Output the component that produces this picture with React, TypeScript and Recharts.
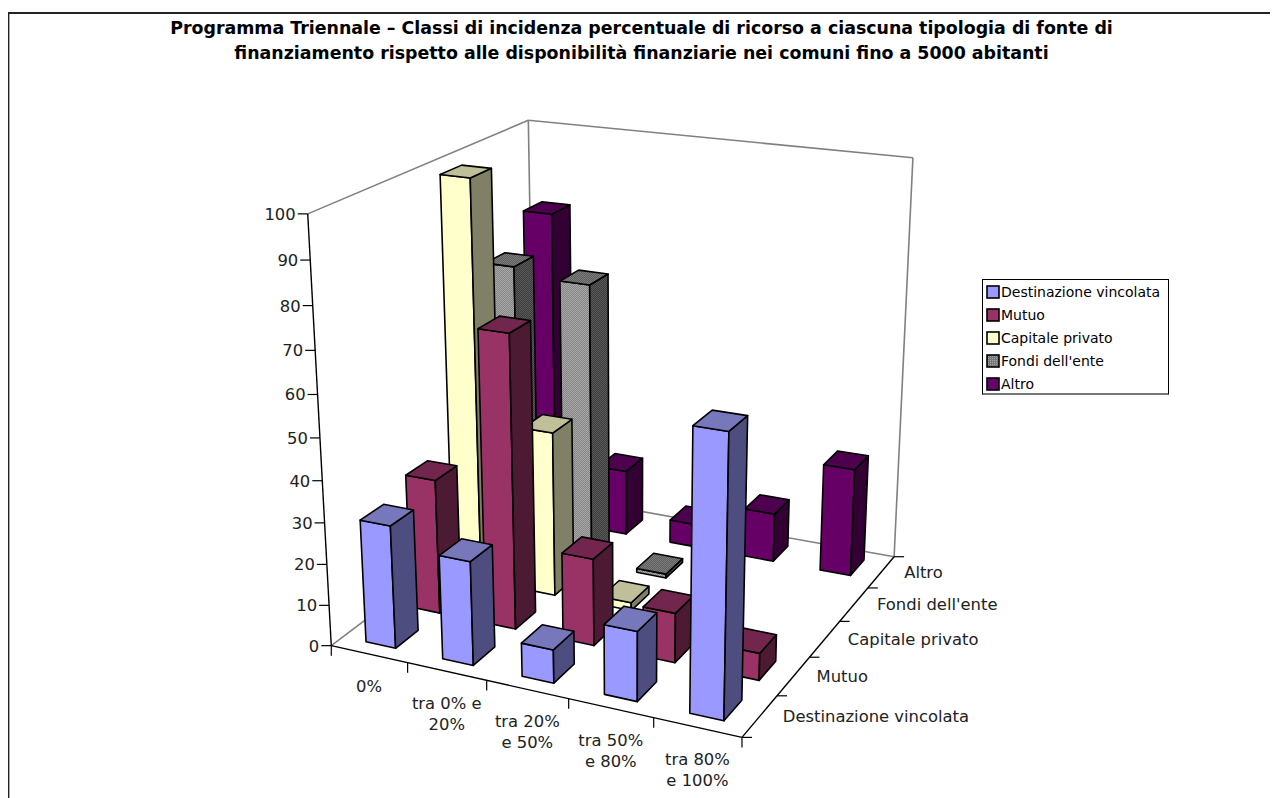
import { ScatterChart, Scatter, XAxis, YAxis, Legend } from 'recharts'

const categories = ['0%', 'tra 0% e|20%', 'tra 20%|e 50%', 'tra 50%|e 80%', 'tra 80%|e 100%']
const seriesNames = ['Destinazione vincolata', 'Mutuo', 'Capitale privato', "Fondi dell'ente", 'Altro']
const destinazione = [29.8, 25, 8, 16.5, 64.5]
const mutuo = [33.2, 71, 21.2, 12, 6.5]
const capitale = [99, 41, 2, 0, 0]
const fondi = [73, 71, 1, 0, 0]
const altro = [81, 17, 6, 12.5, 27.4]
const valueTicks = [0, 10, 20, 30, 40, 50, 60, 70, 80, 90, 100]

const W = 1262
const H = 790
const AXIS_SIZE = 1
const FONT = '"DejaVu Sans", Verdana, sans-serif'
const TICK_SIZE = 16.4

const seriesValues = [destinazione, mutuo, capitale, fondi, altro]
const seriesColors = [
  { front: '#9999ff', side: '#4d4d80', top: '#7777bb' },
  { front: '#993366', side: '#4d1a33', top: '#73264d' },
  { front: '#ffffcc', side: '#808066', top: '#bfbf99' },
  { front: 'url(#dotFront)', side: 'url(#dotSide)', top: 'url(#dotTop)' },
  { front: '#660066', side: '#330033', top: '#4d004d' },
]

// 3d box corners as they sit on the page, used to fit the camera
const corners: number[][] = [
  [0, 0, 0, 331, 645],
  [5, 0, 0, 742, 738],
  [5, 5, 0, 894, 556],
  [0, 5, 0, 535, 493],
  [0, 0, 100, 308, 214],
  [0, 5, 100, 528, 120],
  [5, 5, 100, 913, 158],
]

function fitCamera() {
  const rows: number[][] = []
  const rhs: number[] = []
  corners.forEach(([a, b, c, px, py]) => {
    rows.push([a, b, c, 1, 0, 0, 0, 0, -a * px, -b * px, -c * px])
    rhs.push(px)
    rows.push([0, 0, 0, 0, a, b, c, 1, -a * py, -b * py, -c * py])
    rhs.push(py)
  })
  const n = 11
  const m = Array.from({ length: n }, (_, i) =>
    Array.from({ length: n + 1 }, (_, j) =>
      rows.reduce((s, r, k) => s + r[i] * (j === n ? rhs[k] : r[j]), 0),
    ),
  )
  for (let i = 0; i < n; i++) {
    let best = i
    for (let k = i + 1; k < n; k++) if (Math.abs(m[k][i]) > Math.abs(m[best][i])) best = k
    ;[m[i], m[best]] = [m[best], m[i]]
    for (let k = 0; k < n; k++) {
      if (k === i) continue
      const f = m[k][i] / m[i][i]
      for (let j = i; j <= n; j++) m[k][j] -= f * m[i][j]
    }
  }
  return m.map((r, i) => r[n] / r[i])
}

const cam = fitCamera()

// page position of (category, series, value), shifted into the chart svg
function project(a: number, b: number, c: number) {
  const d = cam[8] * a + cam[9] * b + cam[10] * c + 1
  return {
    x: (cam[0] * a + cam[1] * b + cam[2] * c + cam[3]) / d - 8,
    y: (cam[4] * a + cam[5] * b + cam[6] * c + cam[7]) / d - 8,
  }
}

const pts = (list: number[][]) =>
  list
    .map(([a, b, c]) => {
      const p = project(a, b, c)
      return `${p.x},${p.y}`
    })
    .join(' ')

const BAR_W = 0.195
const BAR_D = 0.25

function Prism(props: any) {
  const { cx, cy, series } = props
  // back to data space from the chart scales
  const cat = ((cx - AXIS_SIZE) / (W - 2 * AXIS_SIZE)) * 5
  const val = ((H - AXIS_SIZE - cy) / (H - AXIS_SIZE)) * 100
  if (val <= 0) return null
  const c = seriesColors[series]
  const x0 = cat - BAR_W
  const x1 = cat + BAR_W
  const y0 = series + 0.5 - BAR_D
  const y1 = series + 0.5 + BAR_D
  const face = { stroke: '#000', strokeWidth: 1.6, strokeLinejoin: 'round' as const }
  return (
    <g>
      <polygon {...face} fill={c.front} points={pts([[x0, y0, 0], [x1, y0, 0], [x1, y0, val], [x0, y0, val]])} />
      <polygon {...face} fill={c.side} points={pts([[x1, y0, 0], [x1, y1, 0], [x1, y1, val], [x1, y0, val]])} />
      <polygon {...face} fill={c.top} points={pts([[x0, y0, val], [x1, y0, val], [x1, y1, val], [x0, y1, val]])} />
    </g>
  )
}

function seg(a: number[], b: number[], stroke: string, width: number) {
  const p = project(a[0], a[1], a[2])
  const q = project(b[0], b[1], b[2])
  return <line x1={p.x} y1={p.y} x2={q.x} y2={q.y} stroke={stroke} strokeWidth={width} />
}

function tickMark(a: number, b: number, c: number, dx: number, dy: number) {
  const p = project(a, b, c)
  return <line key={`${a}-${b}-${c}`} x1={p.x} y1={p.y} x2={p.x + dx} y2={p.y + dy} stroke="#000" strokeWidth={1.2} />
}

function Box() {
  return (
    <g>
      {seg([0, 0, 0], [0, 5, 0], '#808080', 1.6)}
      {seg([0, 5, 0], [5, 5, 0], '#808080', 1.6)}
      {seg([0, 5, 0], [0, 5, 100], '#808080', 1.6)}
      {seg([5, 5, 0], [5, 5, 100], '#808080', 1.6)}
      {seg([0, 0, 100], [0, 5, 100], '#808080', 1.6)}
      {seg([0, 5, 100], [5, 5, 100], '#808080', 1.6)}
      {seg([0, 0, 0], [0, 0, 100], '#000', 1.4)}
      {seg([0, 0, 0], [5, 0, 0], '#000', 1.4)}
      {seg([5, 0, 0], [5, 5, 0], '#000', 1.4)}
      {valueTicks.map((v) => tickMark(0, 0, v, -10, 0))}
      {[0, 1, 2, 3, 4, 5].map((i) => tickMark(i, 0, 0, 0, 10))}
      {[0, 1, 2, 3, 4, 5].map((j) => tickMark(5, j, 0, 10, 0))}
    </g>
  )
}

function ValueTick({ payload }: any) {
  const p = project(0, 0, payload.value)
  return (
    <text x={p.x - 12} y={p.y + 6} textAnchor="end" fontFamily={FONT} fontSize={TICK_SIZE} fill="#222">
      {payload.value}
    </text>
  )
}

function CategoryTick({ payload }: any) {
  const p = project(payload.value, 0, 0)
  const lines = categories[Math.floor(payload.value)].split('|')
  return (
    <text textAnchor="middle" fontFamily={FONT} fontSize={TICK_SIZE} fill="#222">
      {lines.map((l, i) => (
        <tspan key={l} x={p.x} y={p.y + 37.5 + i * 21}>
          {l}
        </tspan>
      ))}
    </text>
  )
}

function SeriesTick({ payload }: any) {
  const p = project(5, payload.value, 0)
  return (
    <text x={p.x + 23} y={p.y + 6} fontFamily={FONT} fontSize={TICK_SIZE} fill="#222">
      {seriesNames[Math.floor(payload.value)]}
    </text>
  )
}

function LegendBox() {
  return (
    <div
      style={{
        boxSizing: 'border-box',
        width: 187,
        height: 116,
        border: '1px solid #000',
        borderBottom: '2px solid #777',
        background: '#fff',
        padding: '0 0 0 3px',
        fontFamily: FONT,
        fontSize: 14,
        color: '#000',
      }}
    >
      {seriesNames.map((name, i) => (
        <div key={name} style={{ display: 'flex', alignItems: 'center', height: 23 }}>
          <svg width={14} height={14} style={{ marginRight: 1 }}>
            <defs>
              <pattern id={`lg${i}`} width={2} height={2} patternUnits="userSpaceOnUse">
                <rect width={2} height={2} fill="#777" />
                <rect width={1} height={1} fill="#a8a8a8" />
              </pattern>
            </defs>
            <rect
              x={1}
              y={1}
              width={12}
              height={12}
              stroke="#000"
              strokeWidth={1.6}
              fill={i === 3 ? `url(#lg${i})` : seriesColors[i].front}
            />
          </svg>
          {name}
        </div>
      ))}
    </div>
  )
}

const dotPattern = (id: string, base: string, dot: string) => (
  <pattern id={id} width={2} height={2} patternUnits="userSpaceOnUse">
    <rect width={2} height={2} fill={base} />
    <rect width={1} height={1} fill={dot} />
    <rect x={1} y={1} width={1} height={1} fill={dot} />
  </pattern>
)

export default function App() {
  return (
    <ScatterChart width={W} height={H} margin={{ top: 0, right: 0, bottom: 0, left: 0 }} style={{ overflow: 'visible' }}>
      <defs>
        {dotPattern('dotFront', '#858585', '#a8a8a8')}
        {dotPattern('dotSide', '#3c3c3c', '#5a5a5a')}
        {dotPattern('dotTop', '#5e5e5e', '#7c7c7c')}
      </defs>
      <path d={`M0.5 ${H} V5 H1270`} fill="none" stroke="#222" strokeWidth={1.8} />
      <text textAnchor="middle" fontFamily={FONT} fontWeight="bold" fontSize={17.4} fill="#000">
        <tspan x={633.5} y={26}>
          Programma Triennale – Classi di incidenza percentuale di ricorso a ciascuna tipologia di fonte di
        </tspan>
        <tspan x={633.5} y={51}>
          finanziamento rispetto alle disponibilità finanziarie nei comuni fino a 5000 abitanti
        </tspan>
      </text>
      <Box />
      <XAxis
        xAxisId="cat"
        type="number"
        dataKey="cat"
        domain={[0, 5]}
        ticks={[0.5, 1.5, 2.5, 3.5, 4.5]}
        interval={0}
        height={AXIS_SIZE}
        axisLine={false}
        tickLine={false}
        tick={<CategoryTick />}
      />
      <YAxis
        yAxisId="val"
        type="number"
        dataKey="value"
        domain={[0, 100]}
        ticks={valueTicks}
        interval={0}
        width={AXIS_SIZE}
        axisLine={false}
        tickLine={false}
        tick={<ValueTick />}
      />
      <YAxis
        yAxisId="depth"
        orientation="right"
        type="number"
        dataKey="depth"
        domain={[0, 5]}
        ticks={[0.5, 1.5, 2.5, 3.5, 4.5]}
        interval={0}
        width={AXIS_SIZE}
        axisLine={false}
        tickLine={false}
        tick={<SeriesTick />}
      />
      {/* carries the series axis, it draws nothing itself */}
      <Scatter
        xAxisId="cat"
        yAxisId="depth"
        legendType="none"
        data={seriesNames.map((_, j) => ({ cat: 5, depth: j + 0.5 }))}
        isAnimationActive={false}
        shape={() => <g />}
      />
      {[4, 3, 2, 1, 0].map((s) => (
        <Scatter
          key={s}
          xAxisId="cat"
          yAxisId="val"
          name={seriesNames[s]}
          data={seriesValues[s].map((value, i) => ({ cat: i + 0.5, value }))}
          isAnimationActive={false}
          shape={(p: any) => <Prism {...p} series={s} />}
        />
      ))}
      <Legend
        layout="horizontal"
        verticalAlign="middle"
        align="center"
        wrapperStyle={{ left: 974, top: 271, width: 187, height: 116, bottom: 'auto', right: 'auto' }}
        content={<LegendBox />}
      />
    </ScatterChart>
  )
}
